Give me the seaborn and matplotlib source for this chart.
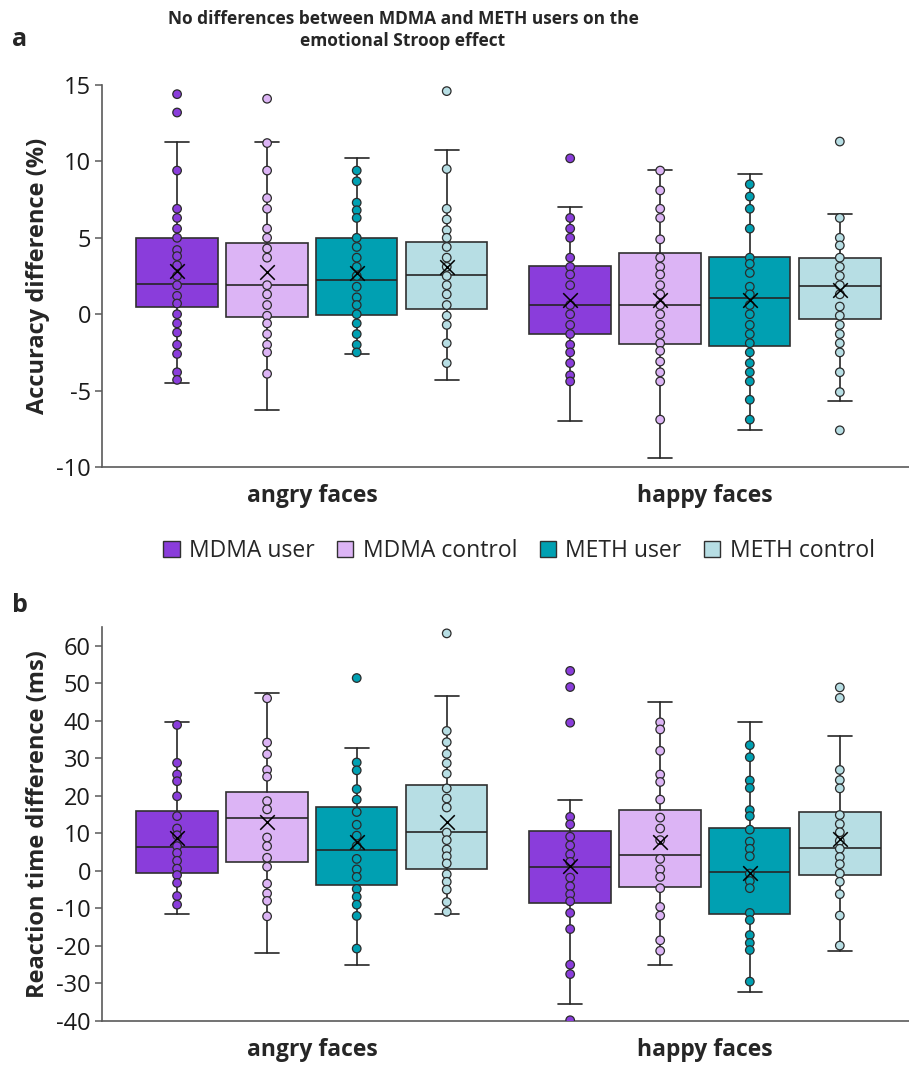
import numpy as np
import pandas as pd
import matplotlib
matplotlib.use('Agg')
import matplotlib.pyplot as plt
from matplotlib.patches import Patch
import seaborn as sns

# Categories -----------------------------------------------------------
groups = ['MDMA user', 'MDMA control', 'METH user', 'METH control']
conditions = ['angry faces', 'happy faces']
colors = ['#8a3ddb', '#dcb4f5', '#00a0b2', '#b7dee4']

# Panel a: accuracy difference (%) - individual points
acc_angry_mdma_user = [14.4, 13.2, 9.4, 6.9, 6.3, 5.6, 5.0, 4.2, 3.8, 3.2, 2.5, 1.9,
                       1.2, 0.7, 0.0, -0.6, -1.2, -2.0, -2.6, -3.8, -4.3]
acc_angry_mdma_ctrl = [14.1, 11.2, 9.4, 7.6, 6.9, 5.6, 5.0, 4.3, 3.7, 1.9, 1.3, 0.6,
                       -0.1, -0.6, -1.3, -2.0, -2.5, -3.9]
acc_angry_meth_user = [9.4, 8.7, 7.3, 6.8, 6.3, 5.0, 4.4, 3.7, 3.1, 2.5, 1.8, 1.1,
                       0.6, 0.0, -0.6, -1.3, -2.0, -2.5]
acc_angry_meth_ctrl = [14.6, 9.5, 6.9, 6.2, 5.5, 5.0, 4.4, 3.7, 3.1, 2.5, 1.9, 1.3,
                       0.6, -0.1, -0.7, -1.9, -3.2]
acc_happy_mdma_user = [10.2, 6.3, 5.6, 5.0, 3.7, 3.1, 2.6, 1.9, 0.6, 0.0, -0.7, -1.3,
                       -2.0, -2.5, -3.2, -4.0, -4.4]
acc_happy_mdma_ctrl = [9.4, 8.1, 6.9, 6.3, 4.9, 3.7, 3.1, 2.6, 1.9, 1.3, 0.6, 0.0,
                       -0.7, -1.3, -1.9, -2.4, -3.1, -3.8, -4.4, -6.9]
acc_happy_meth_user = [8.5, 7.7, 6.9, 5.6, 3.7, 3.3, 2.7, 1.8, 1.3, 0.6, 0.0, -0.7,
                       -1.3, -1.9, -2.5, -3.2, -3.8, -4.4, -5.6, -6.9]
acc_happy_meth_ctrl = [11.3, 6.3, 5.0, 4.5, 3.7, 3.1, 2.5, 1.9, 1.3, 0.5, -0.1, -0.7,
                       -1.3, -1.9, -2.5, -3.8, -5.1, -7.6]

# Panel a: box statistics (angry x4, happy x4)
acc_q1 = [0.48, -0.20, -0.02, 0.33, -1.31, -1.93, -2.08, -0.33]
acc_med = [1.97, 1.88, 2.21, 2.58, 0.63, 0.63, 1.03, 1.86]
acc_q3 = [5.0, 4.66, 4.96, 4.72, 3.13, 4.03, 3.72, 3.67]
acc_lo = [-4.48, -6.30, -2.62, -4.33, -6.96, -9.43, -7.55, -5.69]
acc_hi = [11.29, 11.29, 10.21, 10.72, 7.02, 9.43, 9.17, 6.54]
acc_mean = [2.85, 2.78, 2.67, 3.10, 0.95, 0.92, 0.96, 1.57]

# Panel b: reaction time difference (ms) - individual points
rt_angry_mdma_user = [38.9, 28.8, 25.7, 23.9, 19.9, 14.6, 11.3, 9.5, 6.6, 4.8, 2.7,
                      0.6, -1.1, -3.2, -6.7, -9.0]
rt_angry_mdma_ctrl = [46.0, 34.2, 31.1, 26.9, 25.1, 18.6, 16.4, 8.9, 6.6, 3.5, 1.1,
                      -3.4, -6.0, -8.0, -12.1]
rt_angry_meth_user = [51.4, 28.9, 26.8, 21.8, 19.0, 15.7, 12.3, 9.4, 6.6, 3.2, 0.4,
                      -1.6, -4.8, -6.9, -9.0, -12.0, -20.7]
rt_angry_meth_ctrl = [63.3, 37.3, 34.3, 31.2, 28.7, 25.9, 22.0, 19.3, 16.9, 10.2, 8.2,
                      5.7, 3.9, 2.0, -0.9, -2.9, -5.0, -8.3, -10.9]
rt_happy_mdma_user = [53.3, 49.0, 39.5, 14.4, 12.4, 9.1, 6.8, 4.4, 2.4, -1.8, -4.1,
                      -6.2, -8.1, -11.2, -15.5, -25.0, -27.5, -39.8]
rt_happy_mdma_ctrl = [39.6, 37.7, 32.0, 25.7, 23.7, 19.0, 14.2, 11.3, 8.2, 3.2, 0.4,
                      -1.6, -4.6, -9.6, -11.9, -18.5, -21.3]
rt_happy_meth_user = [33.5, 30.3, 24.1, 22.1, 16.2, 14.6, 11.0, 7.8, 5.9, 3.9, -0.7,
                      -2.7, -4.6, -11.2, -13.1, -17.1, -19.2, -21.1, -29.5]
rt_happy_meth_ctrl = [48.9, 46.1, 26.9, 24.2, 22.0, 14.9, 12.5, 10.3, 8.0, 5.9, 3.7,
                      1.8, -0.7, -2.9, -6.2, -11.9, -19.9]

# Panel b: box statistics (angry x4, happy x4)
rt_q1 = [-0.5, 2.3, -3.8, 0.6, -8.5, -4.4, -11.6, -1.1]
rt_med = [6.4, 14.1, 5.5, 10.4, 1.0, 4.2, -0.4, 6.0]
rt_q3 = [16.0, 20.9, 17.0, 22.9, 10.7, 16.2, 11.5, 15.6]
rt_lo = [-11.4, -21.8, -25.1, -11.4, -35.5, -25.2, -32.3, -21.3]
rt_hi = [39.7, 47.5, 32.7, 46.6, 18.8, 44.9, 39.7, 36.0]
rt_mean = [8.9, 13.1, 7.7, 13.1, 1.3, 7.6, -0.5, 8.6]

# layout
W, H = 909, 1065
offsets = [-0.343, -0.114, 0.114, 0.343]
box_w = 0.207
line_c = '#262626'
spine_c = '#5a5a5a'

sns.set_theme(style='ticks')
plt.rcParams['font.family'] = ['Open Sans', 'DejaVu Sans']
plt.rcParams['axes.unicode_minus'] = False

fig = plt.figure(figsize=(W / 100, H / 100), dpi=100)


def fy(px):
    return 1 - px / H


def draw_panel(ax, point_lists, q1, med, q3, lo, hi, mean):
    stats, pos = [], []
    rows = []
    for ci in range(2):
        for gi in range(4):
            k = ci * 4 + gi
            x = ci + offsets[gi]
            pos.append(x)
            stats.append(dict(med=med[k], q1=q1[k], q3=q3[k], whislo=lo[k],
                              whishi=hi[k], mean=mean[k], fliers=[]))
            for v in point_lists[k]:
                rows.append((x, v, groups[gi]))
    bp = ax.bxp(stats, positions=pos, widths=box_w, patch_artist=True,
                showfliers=False, showmeans=False, manage_ticks=False,
                capwidths=0.062,
                boxprops=dict(edgecolor='#303030', linewidth=1.2),
                medianprops=dict(color=line_c, linewidth=1.2),
                whiskerprops=dict(color=line_c, linewidth=1.2),
                capprops=dict(color=line_c, linewidth=1.2))
    for patch, c in zip(bp['boxes'], colors * 2):
        patch.set_facecolor(c)
        patch.set_zorder(2)
    df = pd.DataFrame(rows, columns=['x', 'value', 'group'])
    sns.scatterplot(data=df, x='x', y='value', hue='group',
                    palette=dict(zip(groups, colors)), s=38,
                    edgecolor='#2b2b2b', linewidth=0.9, legend=False,
                    ax=ax, zorder=3)
    sns.scatterplot(x=pos, y=mean, marker='x', color='black', s=110,
                    linewidth=1.1, legend=False, ax=ax, zorder=4)
    ax.set_xlim(-0.534, 1.519)
    ax.set_xticks([0, 1])
    ax.set_xticklabels(conditions, fontsize=16.5, fontweight='bold')
    ax.tick_params(axis='x', length=0, pad=12)
    ax.tick_params(axis='y', length=5, width=1.1, color=spine_c,
                   labelsize=17, pad=3, labelcolor='#1a1a1a')
    ax.set_xlabel('')
    sns.despine(ax=ax)
    for s in ['left', 'bottom']:
        ax.spines[s].set_color(spine_c)
        ax.spines[s].set_linewidth(1.2)


# Panel a
ax1 = fig.add_axes([102 / W, fy(467), 1 - 102 / W, (467 - 85) / H])
draw_panel(ax1, [acc_angry_mdma_user, acc_angry_mdma_ctrl, acc_angry_meth_user,
                 acc_angry_meth_ctrl, acc_happy_mdma_user, acc_happy_mdma_ctrl,
                 acc_happy_meth_user, acc_happy_meth_ctrl],
           acc_q1, acc_med, acc_q3, acc_lo, acc_hi, acc_mean)
ax1.set_ylim(-10, 15)
ax1.set_yticks(np.arange(-10, 16, 5))
ax1.set_ylabel('Accuracy difference (%)', fontsize=17, fontweight='bold')
ax1.yaxis.set_label_coords(-0.064, 0.5)

# Panel b
ax2 = fig.add_axes([102 / W, fy(1021), 1 - 102 / W, (1021 - 627) / H])
draw_panel(ax2, [rt_angry_mdma_user, rt_angry_mdma_ctrl, rt_angry_meth_user,
                 rt_angry_meth_ctrl, rt_happy_mdma_user, rt_happy_mdma_ctrl,
                 rt_happy_meth_user, rt_happy_meth_ctrl],
           rt_q1, rt_med, rt_q3, rt_lo, rt_hi, rt_mean)
ax2.set_ylim(-40, 65)
ax2.set_yticks(np.arange(-40, 61, 10))
ax2.set_ylabel('Reaction time difference (ms)', fontsize=17, fontweight='bold')
ax2.yaxis.set_label_coords(-0.064, 0.5)

# title, panel letters, legend
fig.text(403 / W, fy(30), 'No differences between MDMA and METH users on the\n'
         'emotional Stroop effect', ha='center', va='center', fontsize=12.5,
         fontweight='bold', linespacing=1.35)
fig.text(12 / W, fy(40), 'a', fontsize=18, fontweight='bold', va='center')
fig.text(12 / W, fy(605), 'b', fontsize=18, fontweight='bold', va='center')

handles = [Patch(facecolor=c, edgecolor='#303030', linewidth=1.0) for c in colors]
fig.legend(handles, groups, loc='center', bbox_to_anchor=(519 / W, fy(551)),
           ncol=4, frameon=False, fontsize=16.5, handlelength=0.7,
           handleheight=0.7, handletextpad=0.4, columnspacing=1.0)

fig.savefig('out.png', dpi=100)
